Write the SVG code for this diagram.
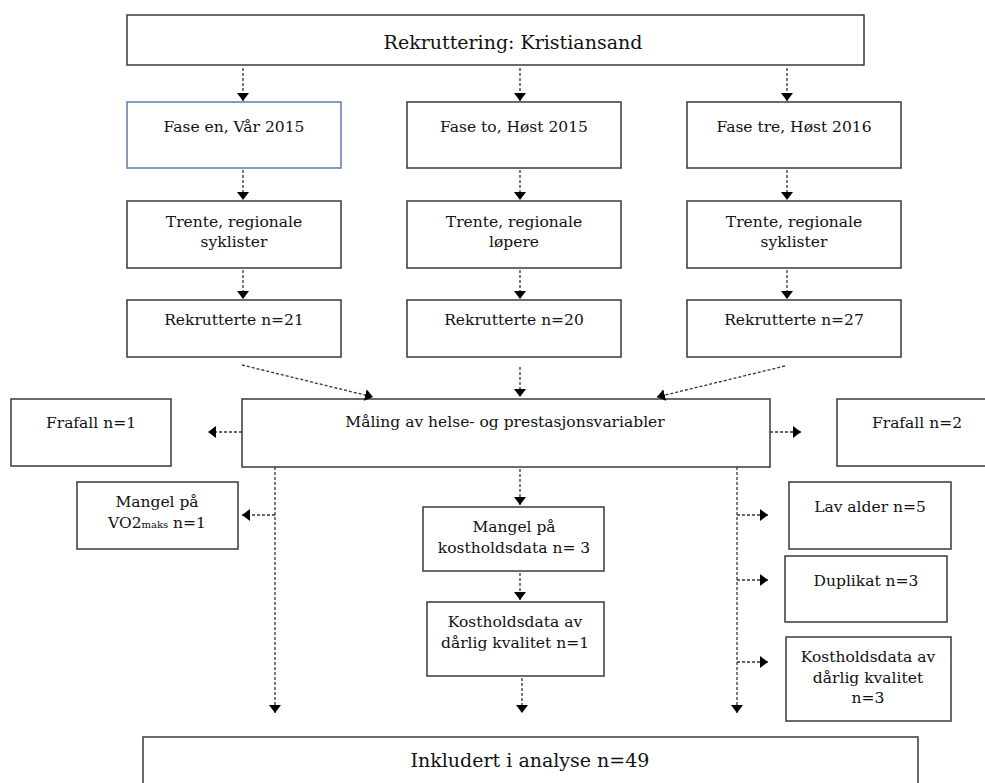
<svg xmlns="http://www.w3.org/2000/svg" width="985" height="783" viewBox="0 0 985 783">
<style>
.box{fill:#fff;stroke:#3a3a3a;stroke-width:1.5}
.blue{stroke:#5d79a8}
text{font-family:"DejaVu Serif","Liberation Serif",serif;font-size:15.5px;fill:#111;text-anchor:middle}
.big{font-size:19px}
.con line{stroke:#333;stroke-width:1.3;stroke-dasharray:3 2;fill:none}
</style>
<defs>
<marker id="ah" markerUnits="userSpaceOnUse" markerWidth="9" markerHeight="13" refX="8" refY="6" orient="auto" viewBox="0 0 9 12">
<path d="M0,0 L8,6 L0,12 z" fill="#000"/>
</marker>
</defs>
<rect width="985" height="783" fill="#fff"/>
<g id="n-top"><rect class="box" x="127" y="15" width="737" height="50"/><text class="big" x="513" y="49">Rekruttering: Kristiansand</text></g>
<g id="n-f1"><rect class="box blue" x="127" y="102" width="214" height="66"/><text x="234" y="132">Fase en, Vår 2015</text></g>
<g id="n-f2"><rect class="box" x="407" y="102" width="214" height="66"/><text x="514" y="132">Fase to, Høst 2015</text></g>
<g id="n-f3"><rect class="box" x="687" y="102" width="214" height="66"/><text x="794" y="132">Fase tre, Høst 2016</text></g>
<g id="n-t1"><rect class="box" x="127" y="201" width="214" height="67"/><text x="234" y="227">Trente, regionale</text><text x="234" y="247">syklister</text></g>
<g id="n-t2"><rect class="box" x="407" y="201" width="214" height="67"/><text x="514" y="227">Trente, regionale</text><text x="514" y="247">løpere</text></g>
<g id="n-t3"><rect class="box" x="687" y="201" width="214" height="67"/><text x="794" y="227">Trente, regionale</text><text x="794" y="247">syklister</text></g>
<g id="n-r1"><rect class="box" x="127" y="300" width="214" height="57"/><text x="234" y="325">Rekrutterte n=21</text></g>
<g id="n-r2"><rect class="box" x="407" y="300" width="214" height="57"/><text x="514" y="325">Rekrutterte n=20</text></g>
<g id="n-r3"><rect class="box" x="687" y="300" width="214" height="57"/><text x="794" y="325">Rekrutterte n=27</text></g>
<g id="n-maal"><rect class="box" x="242" y="399" width="528" height="68"/><text x="505" y="427">Måling av helse- og prestasjonsvariabler</text></g>
<g id="n-fr1"><rect class="box" x="11" y="399" width="160" height="67"/><text x="91" y="428">Frafall n=1</text></g>
<g id="n-fr2"><rect class="box" x="837" y="399" width="160" height="67"/><text x="917" y="428">Frafall n=2</text></g>
<g id="n-vo2"><rect class="box" x="77" y="482" width="161" height="67"/><text x="157" y="507">Mangel på</text><text x="157" y="528">VO2<tspan font-size="10">maks</tspan> n=1</text></g>
<g id="n-kd"><rect class="box" x="423" y="507" width="181" height="64"/><text x="514" y="532">Mangel på</text><text x="514" y="553">kostholdsdata n= 3</text></g>
<g id="n-kdd"><rect class="box" x="427" y="602" width="177" height="74"/><text x="515" y="627">Kostholdsdata av</text><text x="515" y="648">dårlig kvalitet n=1</text></g>
<g id="n-lav"><rect class="box" x="789" y="482" width="162" height="67"/><text x="870" y="512">Lav alder n=5</text></g>
<g id="n-dup"><rect class="box" x="785" y="556" width="162" height="66"/><text x="866" y="586">Duplikat n=3</text></g>
<g id="n-kd3"><rect class="box" x="786" y="637" width="165" height="84"/><text x="868" y="662">Kostholdsdata av</text><text x="868" y="683">dårlig kvalitet</text><text x="868" y="703">n=3</text></g>
<g id="n-ink"><rect class="box" x="143" y="737" width="775" height="60"/><text class="big" x="530" y="767">Inkludert i analyse n=49</text></g>
<g class="con" id="connectors">
<line x1="243" y1="68" x2="243" y2="101" marker-end="url(#ah)"/>
<line x1="520" y1="68" x2="520" y2="101" marker-end="url(#ah)"/>
<line x1="787" y1="68" x2="787" y2="101" marker-end="url(#ah)"/>
<line x1="243" y1="170" x2="243" y2="200" marker-end="url(#ah)"/>
<line x1="520" y1="170" x2="520" y2="200" marker-end="url(#ah)"/>
<line x1="787" y1="170" x2="787" y2="200" marker-end="url(#ah)"/>
<line x1="243" y1="270" x2="243" y2="299" marker-end="url(#ah)"/>
<line x1="520" y1="270" x2="520" y2="299" marker-end="url(#ah)"/>
<line x1="787" y1="270" x2="787" y2="299" marker-end="url(#ah)"/>
<line x1="242" y1="365" x2="373" y2="397" marker-end="url(#ah)"/>
<line x1="520" y1="367" x2="520" y2="397" marker-end="url(#ah)"/>
<line x1="785" y1="366" x2="657" y2="397" marker-end="url(#ah)"/>
<line x1="242" y1="432" x2="208" y2="432" marker-end="url(#ah)"/>
<line x1="770" y1="432" x2="801" y2="432" marker-end="url(#ah)"/>
<line x1="275" y1="467" x2="275" y2="713" marker-end="url(#ah)"/>
<line x1="275" y1="515" x2="242" y2="515" marker-end="url(#ah)"/>
<line x1="520" y1="469" x2="520" y2="505" marker-end="url(#ah)"/>
<line x1="520" y1="573" x2="520" y2="600" marker-end="url(#ah)"/>
<line x1="522" y1="678" x2="522" y2="713" marker-end="url(#ah)"/>
<line x1="737" y1="467" x2="737" y2="713" marker-end="url(#ah)"/>
<line x1="737" y1="515" x2="768" y2="515" marker-end="url(#ah)"/>
<line x1="737" y1="580" x2="768" y2="580" marker-end="url(#ah)"/>
<line x1="737" y1="662" x2="768" y2="662" marker-end="url(#ah)"/>
</g>
</svg>
